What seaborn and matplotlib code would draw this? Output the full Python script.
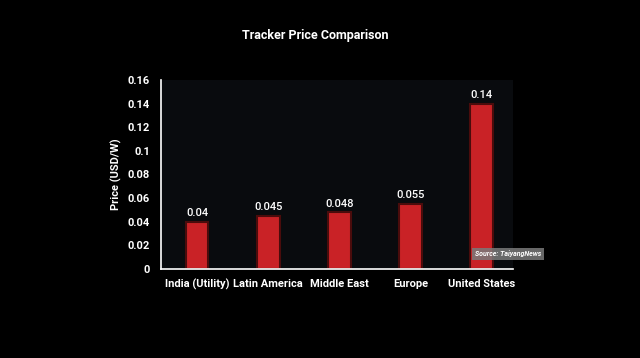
import seaborn as sns
import matplotlib.pyplot as plt
import pandas as pd

regions = ["India (Utility)", "Latin America", "Middle East", "Europe", "United States"]
prices = [0.04, 0.045, 0.048, 0.055, 0.14]
price_labels = ["0.04", "0.045", "0.048", "0.055", "0.14"]
yticks = [0, 0.02, 0.04, 0.06, 0.08, 0.1, 0.12, 0.14, 0.16]
ytick_labels = ["0", "0.02", "0.04", "0.06", "0.08", "0.1", "0.12", "0.14", "0.16"]

df = pd.DataFrame({"Region": regions, "Price": prices})

sns.set_style("dark")
plt.rcParams['font.family'] = ['Roboto', 'DejaVu Sans']

fig = plt.figure(figsize=(6.4, 3.58), dpi=100, facecolor="black")
ax = fig.add_axes([0.2516, 0.2486, 0.55, 0.528])
ax.set_facecolor("#090b0e")

sns.barplot(data=df, x="Region", y="Price", color="#c92226", width=0.32,
            edgecolor="#4a0c0c", linewidth=1.5, saturation=1, ax=ax)

for i, (p, lab) in enumerate(zip(prices, price_labels)):
    ax.text(i, p + 0.003, lab, ha="center", va="bottom", color="white",
            fontsize=8, fontweight="medium")

ax.set_xlim(-0.505, 4.44)
ax.set_ylim(0, 0.16)
ax.set_yticks(yticks)
ax.set_yticklabels(ytick_labels)
ax.tick_params(colors="white", labelsize=8, length=0)
ax.tick_params(axis="y", pad=8)
ax.tick_params(axis="x", pad=7)
for t in ax.get_xticklabels() + ax.get_yticklabels():
    t.set_fontweight("bold")
    t.set_color("white")
ax.set_xlabel("")
ax.set_ylabel("Price (USD/W)", color="white", fontsize=8, fontweight="bold", labelpad=4)
ax.grid(False)

for side in ["top", "right"]:
    ax.spines[side].set_visible(False)
for side in ["left", "bottom"]:
    ax.spines[side].set_visible(True)
    ax.spines[side].set_color("white")
    ax.spines[side].set_linewidth(1.2)

fig.text(0.492, 0.902, "Tracker Price Comparison", ha="center", va="center",
         color="white", fontsize=9, fontweight="bold")

fig.text(0.742, 0.291, "Source: TaiyangNews", ha="left", va="center",
         color="white", fontsize=5, fontstyle="italic", fontweight="bold",
         bbox=dict(boxstyle="square,pad=0.35", facecolor="#7a7a7a", edgecolor="none", alpha=0.85))

fig.savefig("out.png", dpi=100, facecolor="black")
